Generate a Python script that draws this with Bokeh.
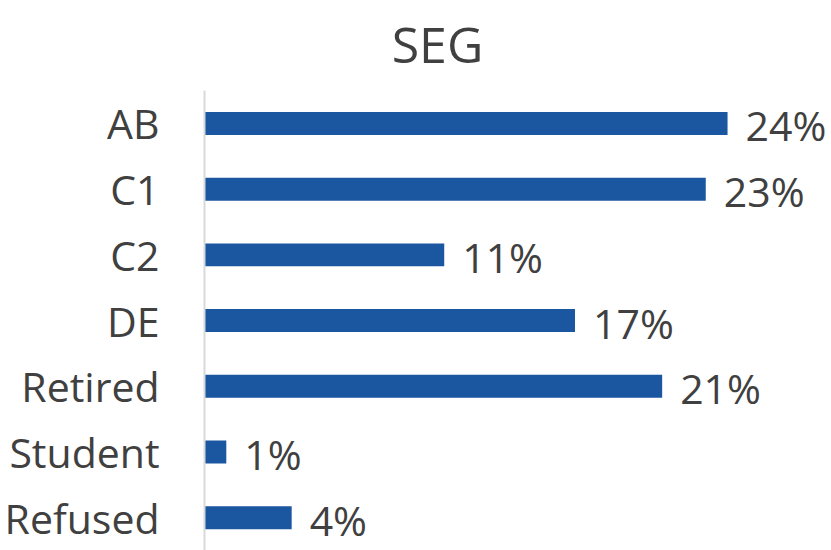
from bokeh.plotting import figure
from bokeh.models import Range1d, ColumnDataSource, Label, FixedTicker
from bokeh.core.properties import value
from bokeh.embed import file_html
from bokeh.resources import INLINE

categories = ["AB", "C1", "C2", "DE", "Retired", "Student", "Refused"]
values = [24, 23, 11, 17, 21, 1, 4]
value_labels = ["24%", "23%", "11%", "17%", "21%", "1%", "4%"]
title_text = "SEG"

BAR = "#1B56A0"
TXT = "#404040"
FONT = "Open Sans"

pos = list(range(len(categories)))
src = ColumnDataSource(dict(pos=pos, cat=categories, val=values, lab=value_labels))

# reversed numeric category axis; extra room at the top holds the title
p = figure(width=831, height=550, output_backend="svg", toolbar_location=None,
           y_range=Range1d(6.5, -1.872), x_range=Range1d(0, 28.77),
           min_border_left=204, min_border_top=0, min_border_bottom=0,
           min_border_right=0)
p.outline_line_color = None
p.background_fill_color = "white"
p.border_fill_color = "white"
p.xgrid.visible = False
p.ygrid.visible = False
p.xaxis.visible = False

ax = p.yaxis[0]
ax.ticker = FixedTicker(ticks=pos)
ax.major_label_overrides = {i: c for i, c in zip(pos, categories)}
ax.bounds = (-0.5, 6.5)
ax.axis_line_color = "#d9d9d9"
ax.axis_line_width = 2
ax.major_tick_line_color = None
ax.minor_tick_line_color = None
ax.major_tick_out = 0
ax.major_tick_in = 0
ax.major_label_standoff = 45
ax.major_label_text_font = FONT
ax.major_label_text_font_size = "41px"
ax.major_label_text_color = TXT

p.hbar(y="pos", right="val", left=0, height=0.35, source=src,
       fill_color=BAR, line_color=None)

p.text(x="val", y="pos", text="lab", source=src, x_offset=18, y_offset=2,
       text_baseline="middle", text_align="left",
       text_font=value(FONT), text_font_size="41px", text_color=TXT)

p.add_layout(Label(x=10.69, y=-1.217, text=title_text, text_align="center",
                   text_baseline="alphabetic", text_font=FONT,
                   text_font_size="50px", text_color=TXT))

open("out.html", "w").write(file_html(p, INLINE))
